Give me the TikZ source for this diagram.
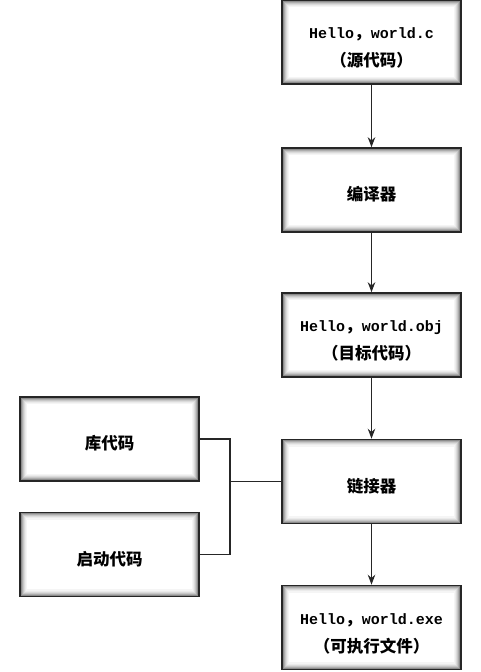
\documentclass[tikz,border=0pt]{standalone}
\usepackage{fontspec}
\newfontfamily\cjk[Scale=1.1]{Noto Sans CJK SC}
\newfontfamily\mono{Liberation Mono}
\usetikzlibrary{calc,arrows.meta}
\newcommand\tx[1]{\raisebox{-5pt}[\height][\depth]{\begin{tabular}{@{}c@{}}#1\end{tabular}}}
\tikzset{
  box/.style={minimum width=179pt, minimum height=84pt, inner sep=0pt, align=center,
    draw=black!85, line width=1.6pt, fill=white,
    font=\fontsize{15}{28}\selectfont\bfseries,
    path picture={
      \foreach \i/\c in {1/60,2/45,3/32,4/22,5/14,6/8,7/4}{
        \draw[black!\c, line width=1.05pt]
          ($(path picture bounding box.north west)+({\i-0.5},{\i-0.5})$) rectangle
          ($(path picture bounding box.south east)+({-\i+0.5},{-\i+0.5})$);
      }
    }},
  arr/.style={draw=black!85, line width=1.3pt, -{Stealth[length=10pt,width=7.5pt]}},
  link/.style={draw=black!85, line width=1.3pt}
}
\begin{document}
\begin{tikzpicture}[x=1pt,y=-1pt]
\useasboundingbox (0,0) rectangle (480,672);
\node[box] (src) at (371.5,42) {\tx{{\mono Hello}{\cjk ，}{\mono world.c}\\{\cjk （源代码）}}};
\node[box] (cc) at (371.5,190) {\tx{{\cjk 编译器}}};
\node[box] (obj) at (371.5,335) {\tx{{\mono Hello}{\cjk ，}{\mono world.obj}\\{\cjk （目标代码）}}};
\node[box] (ld) at (371.5,481.5) {\tx{{\cjk 链接器}}};
\node[box] (exe) at (371.5,627.5) {\tx{{\mono Hello}{\cjk ，}{\mono world.exe}\\{\cjk （可执行文件）}}};
\node[box] (lib) at (109.5,439) {\tx{{\cjk 库代码}}};
\node[box] (start) at (109.5,554.5) {\tx{{\cjk 启动代码}}};
\coordinate (j) at (230,481.5);
\draw[arr] (src) -- (cc);
\draw[arr] (cc) -- (obj);
\draw[arr] (obj) -- (ld);
\draw[arr] (ld) -- (exe);
\draw[link] (lib.east) -- (lib.east -| j) -- (start.east -| j) -- (start.east);
\draw[link] (j) -- (ld.west);
\end{tikzpicture}
\end{document}
